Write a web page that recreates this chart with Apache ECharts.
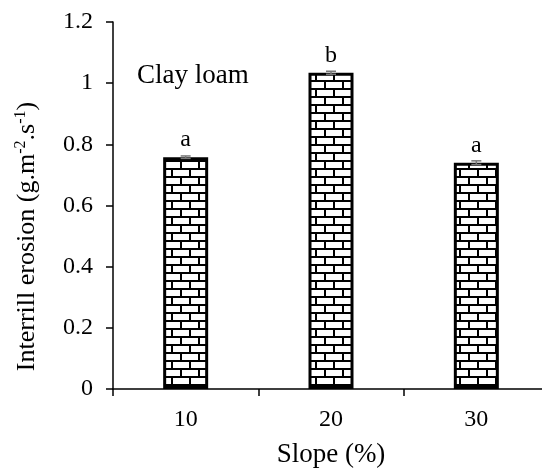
<!DOCTYPE html>
<html>
<head>
<meta charset="utf-8">
<script src="https://cdn.jsdelivr.net/npm/echarts@6/dist/echarts.min.js"></script>
<style>
  html, body { margin: 0; padding: 0; background: #fff; }
  #chart { width: 542px; height: 470px; }
</style>
</head>
<body>
<div id="chart"></div>
<script>
// Interrill erosion by slope, clay loam soil
const slopes = ['10', '20', '30'];
const erosion = [0.758, 1.034, 0.740];
const errors = [0.004, 0.005, 0.006];
const groupLetters = ['a', 'b', 'a'];

const FONT = '"Liberation Serif", "Times New Roman", serif';

// Brick fill for the bars
function brickPattern() {
  const c = document.createElement('canvas');
  c.width = 18; c.height = 16;
  const g = c.getContext('2d');
  g.fillStyle = '#fff';
  g.fillRect(0, 0, 18, 16);
  g.fillStyle = '#000';
  g.fillRect(0, 0, 18, 2);   // mortar row 1
  g.fillRect(0, 8, 18, 2);   // mortar row 2
  g.fillRect(0, 0, 2, 8);    // joint row 1
  g.fillRect(9, 8, 2, 8);    // joint row 2 (offset)
  return c;
}

const chart = echarts.init(document.getElementById('chart'));
chart.setOption({
  animation: false,
  backgroundColor: '#fff',
  textStyle: { fontFamily: FONT },
  title: {
    text: 'Clay loam',
    left: 137, top: 62,
    padding: 0,
    textStyle: { fontFamily: FONT, fontSize: 27, fontWeight: 'normal', color: '#000' }
  },
  grid: { left: 113, top: 22, bottom: 81, width: 436, outerBoundsMode: 'none', containLabel: false },
  xAxis: {
    type: 'category',
    data: slopes,
    name: 'Slope (%)',
    nameLocation: 'middle',
    nameGap: 52,
    nameTextStyle: { fontFamily: FONT, fontSize: 27, color: '#000' },
    axisLine: { lineStyle: { color: '#000', width: 1.5 } },
    axisTick: { show: true, length: 7, lineStyle: { color: '#000', width: 1.5 } },
    axisLabel: { fontFamily: FONT, fontSize: 24, color: '#000', margin: 19 },
    splitLine: { show: false }
  },
  yAxis: {
    type: 'value',
    min: 0, max: 1.2, interval: 0.2,
    name: 'Interrill erosion (g.m{sup|-2}.s{sup|-1})',
    nameLocation: 'middle',
    nameGap: 72,
    nameRotate: 90,
    nameTextStyle: {
      fontFamily: FONT, fontSize: 26, color: '#000',
      padding: [0, 62, 0, 0],
      rich: {
        sup: { fontFamily: FONT, fontSize: 16, color: '#000', padding: [0, 0, 12, 0] }
      }
    },
    axisLine: { show: true, lineStyle: { color: '#000', width: 1.5 } },
    axisTick: { show: true, length: 7, lineStyle: { color: '#000', width: 1.5 } },
    axisLabel: { fontFamily: FONT, fontSize: 24, color: '#000', margin: 20 },
    splitLine: { show: false }
  },
  series: [
    {
      type: 'bar',
      data: erosion,
      barWidth: 45,
      itemStyle: {
        color: { image: brickPattern(), repeat: 'repeat' },
        borderColor: '#000',
        borderWidth: 3
      },
      label: {
        show: true,
        position: 'top',
        distance: 5,
        fontFamily: FONT, fontSize: 24, color: '#000',
        formatter: p => groupLetters[p.dataIndex]
      },
      z: 2
    },
    {
      type: 'custom',
      z: 3,
      data: erosion.map((v, i) => [i, v, errors[i]]),
      renderItem: (params, api) => {
        const x = api.value(0), v = api.value(1), e = api.value(2);
        const hi = api.coord([x, v + e]);
        const lo = api.coord([x, v - e]);
        const cap = 5;
        const style = { stroke: '#777', lineWidth: 1.5 };
        return {
          type: 'group',
          children: [
            { type: 'line', shape: { x1: hi[0], y1: hi[1], x2: lo[0], y2: lo[1] }, style },
            { type: 'line', shape: { x1: hi[0] - cap, y1: hi[1], x2: hi[0] + cap, y2: hi[1] }, style },
            { type: 'line', shape: { x1: lo[0] - cap, y1: lo[1], x2: lo[0] + cap, y2: lo[1] }, style }
          ]
        };
      }
    }
  ]
});
</script>
</body>
</html>
